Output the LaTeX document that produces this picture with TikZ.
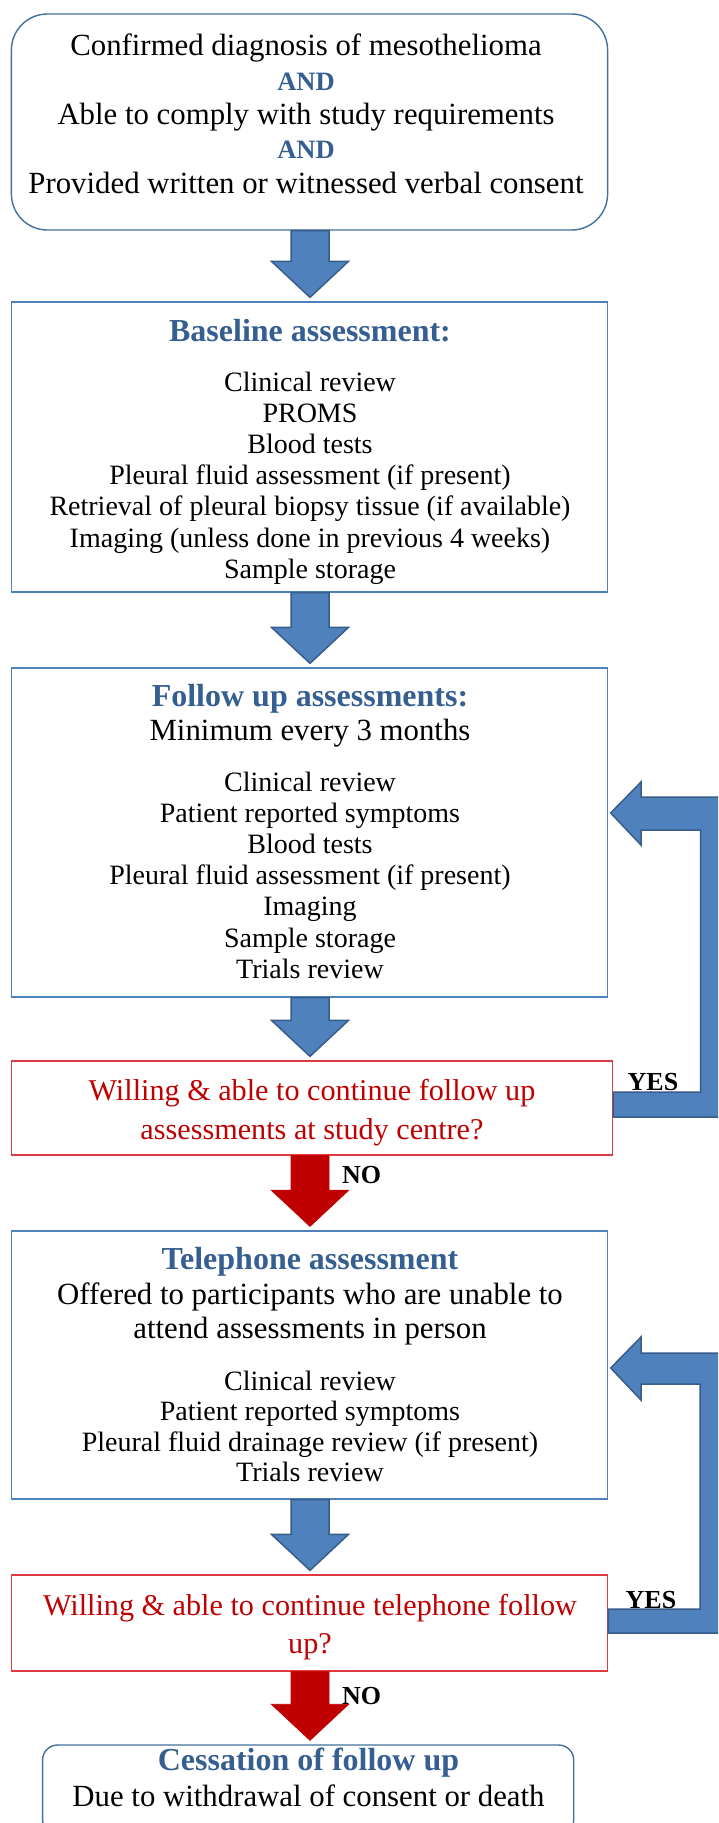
\documentclass[tikz,border=0pt]{standalone}
\usepackage{fontspec}
\setmainfont{Liberation Serif}
\usetikzlibrary{calc}
\definecolor{arrowblue}{RGB}{79,129,189}
\definecolor{arrowedge}{RGB}{56,93,138}
\definecolor{boxblue}{RGB}{79,129,189}
\definecolor{roundblue}{RGB}{65,113,156}
\definecolor{headblue}{RGB}{54,95,145}
\definecolor{darkred}{RGB}{192,0,0}
\definecolor{boxred}{RGB}{224,58,62}
\newcommand{\tline}[5]{\node[#1] (#2) at (#3,#4) {#5};}
\newcommand{\downblock}[3]{%
  \path[#1] let \p1=(#2.south), \p2=(#3.north) in
    (291pt,\y1) -- (291pt,\y2+40pt) -- (271.5pt,\y2+40pt) -- (310pt,\y2+4pt)
    -- (348.5pt,\y2+40pt) -- (329pt,\y2+40pt) -- (329pt,\y1) -- cycle;}
\begin{document}
\begin{tikzpicture}[x=1pt,y=-1pt,
  bluebox/.style={draw=boxblue, line width=1.3pt, fill=white, rectangle, inner sep=0pt},
  roundbox/.style={draw=roundblue, line width=1.4pt, fill=white, rectangle, inner sep=0pt},
  redbox/.style={draw=boxred, line width=1.3pt, fill=white, rectangle, inner sep=0pt},
  txt/.style={anchor=base, inner sep=0pt, font=\fontsize{30.8}{34}\selectfont},
  lst/.style={anchor=base, inner sep=0pt, font=\fontsize{28}{31}\selectfont},
  hd/.style={anchor=base, inner sep=0pt, text=headblue, font=\fontsize{32}{34}\selectfont\bfseries},
  andtxt/.style={anchor=base, inner sep=0pt, text=headblue, font=\fontsize{26.5}{30}\selectfont\bfseries},
  rq/.style={anchor=base, inner sep=0pt, text=darkred, font=\fontsize{30.2}{34}\selectfont},
  yn/.style={anchor=base, inner sep=0pt, font=\fontsize{26}{30}\selectfont\bfseries},
  bluearrow/.style={fill=arrowblue, draw=arrowedge, line width=1.5pt, line join=miter},
  redarrow/.style={fill=darkred, draw=darkred, line width=0.8pt}]
\useasboundingbox (0,0) rectangle (718,1823);
\clip (0,0) rectangle (718,1823);
\fill[white] (0,0) rectangle (718,1823);

% boxes
\node[roundbox, rounded corners=36pt, minimum width=596.2pt, minimum height=216pt] (top) at (309.5,122) {};
\node[bluebox, minimum width=596.2pt, minimum height=290pt] (base) at (309.5,447) {};
\node[bluebox, minimum width=596.2pt, minimum height=329pt] (fu) at (309.5,832.5) {};
\node[redbox, minimum width=601.2pt, minimum height=94pt] (d1) at (312,1108) {};
\node[bluebox, minimum width=596.2pt, minimum height=268pt] (tel) at (309.5,1365) {};
\node[redbox, minimum width=596.2pt, minimum height=96pt] (d2) at (309.5,1623) {};
\node[roundbox, rounded corners=15pt, minimum width=531.1pt, minimum height=90pt] (end) at (308.15,1790) {};

% top box text
\tline{txt}{t1}{306}{55}{Confirmed diagnosis of mesothelioma}
\tline{andtxt}{t2}{306}{90}{AND}
\tline{txt}{t3}{306}{124}{Able to comply with study requirements}
\tline{andtxt}{t4}{306}{158}{AND}
\tline{txt}{t5}{306}{193}{Provided written or witnessed verbal consent}

% baseline
\tline{hd}{bh}{310}{341}{Baseline assessment:}
\foreach \t [count=\i, evaluate=\i as \yy using 391+(\i-1)*31.2] in
  {Clinical review, PROMS, Blood tests, Pleural fluid assessment (if present),
   Retrieval of pleural biopsy tissue (if available),
   Imaging (unless done in previous 4 weeks), Sample storage}
  {\node[lst] (b\i) at (310,\yy) {\t};}

% follow up
\tline{hd}{fh}{310}{706.7}{Follow up assessments:}
\tline{txt}{fm}{310}{740.7}{Minimum every 3 months}
\foreach \t [count=\i, evaluate=\i as \yy using 791.5+(\i-1)*31.1] in
  {Clinical review, Patient reported symptoms, Blood tests,
   Pleural fluid assessment (if present), Imaging, Sample storage, Trials review}
  {\node[lst] (f\i) at (310,\yy) {\t};}

% decision 1
\tline{rq}{q1a}{312}{1100}{Willing \& able to continue follow up}
\tline{rq}{q1b}{312}{1139}{assessments at study centre?}

% telephone
\tline{hd}{th}{310}{1269.3}{Telephone assessment}
\tline{txt}{to1}{310}{1304}{Offered to participants who are unable to}
\tline{txt}{to2}{310}{1338}{attend assessments in person}
\foreach \t [count=\i, evaluate=\i as \yy using 1390+(\i-1)*30.6] in
  {Clinical review, Patient reported symptoms,
   Pleural fluid drainage review (if present), Trials review}
  {\node[lst] (p\i) at (310,\yy) {\t};}

% decision 2
\tline{rq}{q2a}{310}{1615}{Willing \& able to continue telephone follow}
\tline{rq}{q2b}{310}{1653}{up?}

% end
\tline{hd}{eh}{308.5}{1770.7}{Cessation of follow up}
\tline{txt}{ed}{308.5}{1806}{Due to withdrawal of consent or death}

% down arrows
\downblock{bluearrow}{top}{base}
\downblock{bluearrow}{base}{fu}
\downblock{bluearrow}{fu}{d1}
\downblock{redarrow}{d1}{tel}
\downblock{bluearrow}{tel}{d2}
\downblock{redarrow}{d2}{end}

% loop arrows
\path[bluearrow] ([xshift=2.4pt,yshift=19.5pt]fu.east) -- (641,782) -- (641,797) -- (745,797)
  -- (745,1117) -- ([yshift=-9pt]d1.east) -- ([yshift=16pt]d1.east) -- (700.7,1092)
  -- (700.7,830) -- (641,830) -- (641,845) -- cycle;
\path[bluearrow] ([xshift=2.4pt,yshift=-3pt]tel.east) -- (641,1337) -- (641,1353) -- (745,1353)
  -- (745,1633) -- ([yshift=-10pt]d2.east) -- ([yshift=14pt]d2.east) -- (700,1609)
  -- (700,1384) -- (641,1384) -- (641,1400) -- cycle;

% labels
\tline{yn}{no1}{361.5}{1183}{NO}
\tline{yn}{yes1}{653}{1090}{YES}
\tline{yn}{no2}{361.5}{1704}{NO}
\tline{yn}{yes2}{651}{1608}{YES}
\end{tikzpicture}
\end{document}
